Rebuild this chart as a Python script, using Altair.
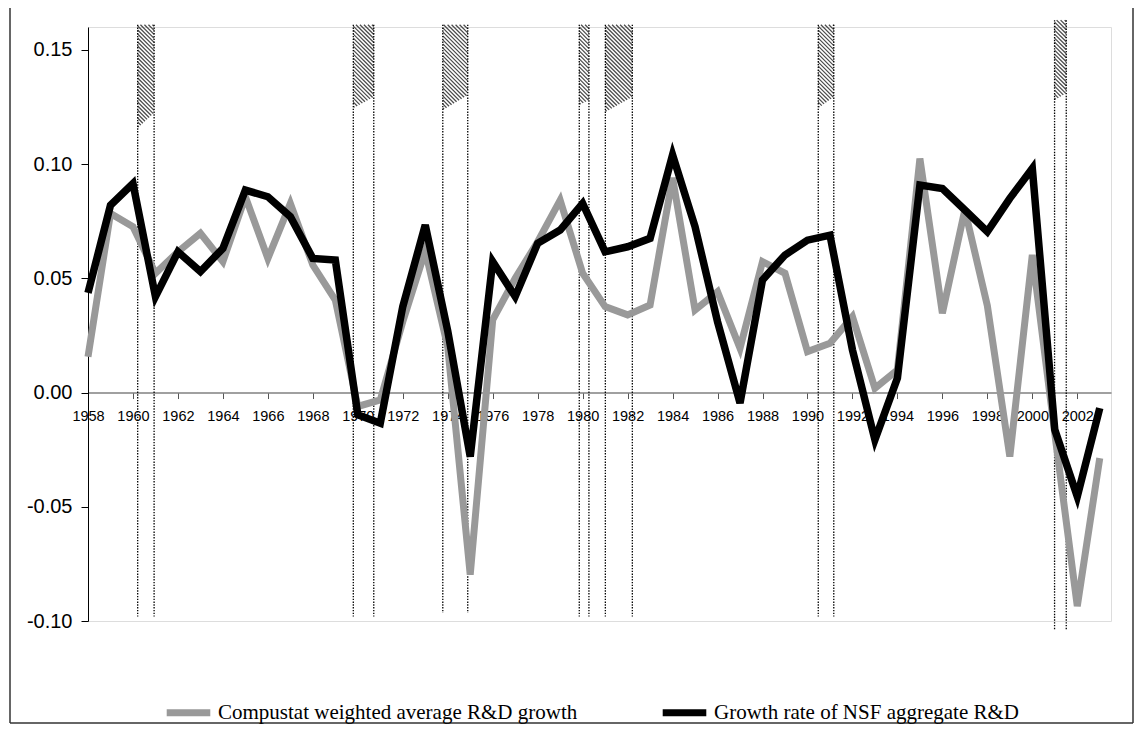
import altair as alt
import pandas as pd

# ---------------- data ----------------
years = list(range(1958, 2004))
nsf = [0.0436, 0.082, 0.0915, 0.042, 0.0616, 0.0529, 0.0631, 0.0886, 0.0857, 0.077,
       0.0587, 0.058, -0.0097, -0.0134, 0.0376, 0.0733, 0.027, -0.028, 0.0573, 0.042,
       0.0653, 0.0711, 0.0828, 0.0616, 0.0638, 0.0675, 0.104, 0.0726, 0.031, -0.0046,
       0.0493, 0.0602, 0.0667, 0.0689, 0.0187, -0.0207, 0.0063, 0.0908, 0.0893, 0.0799,
       0.0704, 0.085, 0.0981, -0.0163, -0.0455, -0.0068]
compustat = [0.0157, 0.0784, 0.0726, 0.0522, 0.0616, 0.0697, 0.0573, 0.0857, 0.0587, 0.0828,
             0.0558, 0.0405, -0.0061, -0.0032, 0.031, 0.062, 0.02, -0.0797, 0.0318, 0.05,
             0.066, 0.0842, 0.0522, 0.0376, 0.034, 0.0383, 0.094, 0.0361, 0.0441, 0.0194,
             0.0573, 0.0522, 0.0179, 0.0216, 0.0332, 0.0019, 0.0099, 0.1024, 0.0347, 0.080,
             0.038, -0.028, 0.0602, -0.018, -0.0935, -0.0287]

series_names = ["Compustat weighted average R&D growth", "Growth rate of NSF aggregate R&D"]

# recession bands (start, end in fractional years)
band_start = [1960.21, 1969.80, 1973.78, 1979.85, 1981.01, 1990.48, 2000.99]
band_end = [1960.94, 1970.71, 1974.89, 1980.28, 1982.21, 1991.17, 2001.51]
band_top = [0.161, 0.161, 0.161, 0.161, 0.161, 0.161, 0.163]
band_bottom = [-0.098, -0.098, -0.0965, -0.098, -0.098, -0.098, -0.104]
hatch_bottom_left = [0.1158, 0.1245, 0.1237, 0.1259, 0.1228, 0.1245, 0.128]
hatch_bottom_right = [0.1224, 0.1294, 0.1302, 0.128, 0.1294, 0.1294, 0.1311]

x_ticks = list(range(1958, 2003, 2))
y_ticks = [-0.10, -0.05, 0.0, 0.05, 0.10, 0.15]

# ---------------- layout ----------------
X_MIN, X_MAX = 1958, 2003.5
Y_MIN, Y_MAX = -0.10, 0.16
W, H = 1023, 594
sx = W / (X_MAX - X_MIN)
sy = H / (Y_MAX - Y_MIN)

lines_df = pd.DataFrame({
    "year": years * 2,
    "value": compustat + nsf,
    "series": [series_names[0]] * len(years) + [series_names[1]] * len(years),
})

vlines = pd.DataFrame({
    "x": band_start + band_end,
    "top": band_top + band_top,
    "bottom": band_bottom + band_bottom,
})

# hatch lines (45 degree, top-left to bottom-right) derived from the bands
hatch_rows = []
spacing = 4.0
for x0, x1, top, bl, br in zip(band_start, band_end, band_top, hatch_bottom_left, hatch_bottom_right):
    X0 = (x0 - X_MIN) * sx
    X1 = (x1 - X_MIN) * sx
    PT = (Y_MAX - top) * sy
    PBL = (Y_MAX - bl) * sy
    PBR = (Y_MAX - br) * sy
    k = (PBR - PBL) / (X1 - X0)
    c = X0 - max(PBL, PBR) - 2
    while c < X1 - PT + 2:
        lo = max(X0, PT + c)
        hi = min(X1, (c + PBL - k * X0) / (1 - k))
        if hi > lo + 0.3:
            hatch_rows.append({
                "x": X_MIN + lo / sx, "y": Y_MAX - (lo - c) / sy,
                "x2": X_MIN + hi / sx, "y2": Y_MAX - (hi - c) / sy,
            })
        c += spacing
hatch_df = pd.DataFrame(hatch_rows)

xscale = alt.Scale(domain=[X_MIN, X_MAX], nice=False, zero=False)
yscale = alt.Scale(domain=[Y_MIN, Y_MAX], nice=False, zero=False)

zero_offset = -(0 - Y_MIN) * sy

xaxis = alt.Axis(values=x_ticks, format="d", title=None, offset=zero_offset,
                 domainColor="#808080", domainWidth=1.5, tickColor="#555555", tickSize=6,
                 labelPadding=11, labelFontSize=14.5, labelFont="Liberation Sans",
                 labelColor="black", grid=False, labelOverlap=False, labelFlush=False)
yaxis = alt.Axis(values=y_ticks, title=None, domainColor="black", tickColor="black",
                 tickSize=7, labelPadding=9, labelFontSize=20, labelFont="Liberation Sans",
                 labelColor="black", grid=False,
                 labelExpr="replace(format(datum.value, '.2f'), '\u2212', '-')")

X = lambda f: alt.X(f, type="quantitative", scale=xscale, axis=xaxis)
Y = lambda f: alt.Y(f, type="quantitative", scale=yscale, axis=yaxis)

hatch = alt.Chart(hatch_df).mark_rule(color="#4a4a4a", strokeWidth=1.25).encode(
    x=X("x"), x2="x2", y=Y("y"), y2="y2")

dotted = alt.Chart(vlines).mark_rule(color="black", strokeWidth=1.3, strokeDash=[1.4, 1.4]).encode(
    x=X("x"), y=Y("top"), y2="bottom")

color = alt.Color("series:N",
                  scale=alt.Scale(domain=series_names, range=["#999999", "#000000"]),
                  legend=alt.Legend(orient="none", legendX=75, legendY=660, direction="horizontal",
                                    title=None, symbolType="stroke", symbolSize=1900,
                                    symbolStrokeWidth=7, labelFont="Liberation Serif",
                                    labelFontSize=21, labelLimit=700, columnPadding=70,
                                    labelOffset=4, padding=0, labelColor="black"))

gray_line = alt.Chart(lines_df).transform_filter(
    alt.datum.series == series_names[0]).mark_line(strokeWidth=7).encode(
    x=X("year"), y=Y("value"), color=color)
black_line = alt.Chart(lines_df).transform_filter(
    alt.datum.series == series_names[1]).mark_line(strokeWidth=7.5).encode(
    x=X("year"), y=Y("value"), color=color)

one = pd.DataFrame({"a": [0]})
frame_left = alt.Chart(one).mark_rule(color="#333333", strokeWidth=1.5).encode(
    x=alt.value(-78), y=alt.value(-19), y2=alt.value(696))
frame_right = alt.Chart(one).mark_rule(color="#333333", strokeWidth=1.5).encode(
    x=alt.value(1045), y=alt.value(-19), y2=alt.value(696))
frame_bottom = alt.Chart(one).mark_rule(color="#333333", strokeWidth=1.5).encode(
    x=alt.value(-78), x2=alt.value(1045), y=alt.value(696))

chart = alt.layer(hatch, dotted, gray_line, black_line, frame_left, frame_right, frame_bottom).properties(
    width=W, height=H,
    padding={"left": 80, "top": 19, "right": 23, "bottom": 103},
    autosize=alt.AutoSizeParams(type="none"),
).configure_view(stroke=None).configure(background="white")

chart.save("out.html", embed_options={"renderer": "svg", "actions": False})
